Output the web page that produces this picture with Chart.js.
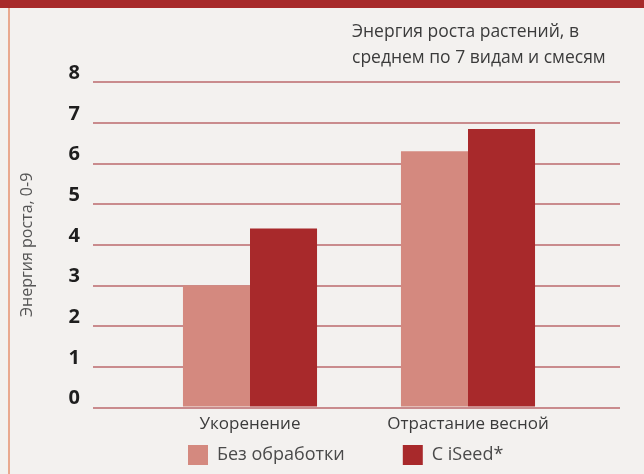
<!DOCTYPE html>
<html>
<head>
<meta charset="utf-8">
<script src="https://cdn.jsdelivr.net/npm/chart.js@4.4.1/dist/chart.umd.min.js"></script>
<style>
  html, body { margin: 0; padding: 0; }
  body { width: 644px; height: 474px; background: #f3f1ef; position: relative; overflow: hidden; }
  #topBar { position: absolute; left: 0; top: 0; width: 644px; height: 8px; background: #a72a2a; }
  #leftLine { position: absolute; left: 8px; top: 8px; width: 2px; height: 466px; background: #e9a98f; }
  #box { position: absolute; left: 0; top: 0; width: 644px; height: 474px; }
</style>
</head>
<body>
<div id="topBar"></div>
<div id="leftLine"></div>
<div id="box"><canvas id="growthChart" width="644" height="474"></canvas></div>
<script>
const categories = ["Укоренение", "Отрастание весной"];
const seriesNames = ["Без обработки", "С iSeed*"];
const untreated = [3.0, 6.3];
const withISeed = [4.4, 6.85];
const yTicks = [0, 1, 2, 3, 4, 5, 6, 7, 8];

const titleLines = ["Энергия роста растений, в", "среднем по 7 видам и смесям"];
const yTitle = "Энергия роста, 0-9";

const gridColor = "#c98b8d";
const textFont = "Open Sans";

// title and legend sit at fixed spots in the original layout
const placeBlocks = {
  id: "placeBlocks",
  afterLayout(chart) {
    chart.titleBlock.left = 352;
    const lg = chart.legend;
    lg.left = 188 - 58;
    lg.top = 445 - 58;
    lg.bottom = 474;
    lg.right = 644;
  },
};

new Chart(document.getElementById("growthChart"), {
  type: "bar",
  data: {
    labels: categories,
    datasets: [
      {
        label: seriesNames[0],
        data: untreated,
        backgroundColor: "#d4897f",
        borderWidth: 0,
      },
      {
        label: seriesNames[1],
        data: withISeed,
        backgroundColor: "#a8292b",
        borderWidth: 0,
      },
    ],
  },
  options: {
    responsive: false,
    animation: false,
    devicePixelRatio: 1,
    categoryPercentage: 0.615,
    barPercentage: 1,
    layout: { padding: { left: 0, right: 24, top: 0, bottom: 24 } },
    plugins: {
      title: {
        display: true,
        text: titleLines,
        align: "start",
        color: "#3b3b3b",
        font: { family: textFont, size: 17.5, weight: "normal", lineHeight: 1.49 },
        padding: { top: 19, bottom: 11 },
      },
      legend: {
        position: "bottom",
        align: "start",
        maxHeight: 10,
        labels: {
          boxWidth: 20,
          boxHeight: 20,
          padding: 58,
          color: "#4a4a4a",
          font: { family: textFont, size: 18 },
        },
      },
      tooltip: { enabled: false },
    },
    scales: {
      x: {
        grid: { display: false, drawTicks: false },
        border: { display: false },
        ticks: {
          padding: 6,
          maxRotation: 0,
          color: "#3b3b3b",
          font: { family: textFont, size: 17 },
        },
      },
      y: {
        min: 0,
        max: 8,
        afterFit(scale) { scale.width = 141; },
        afterBuildTicks(scale) { scale.ticks = yTicks.map(v => ({ value: v })); },
        grid: { color: gridColor, lineWidth: 2, tickLength: 48 },
        border: { display: false },
        ticks: {
          padding: 13,
          labelOffset: -9,
          color: "#1e1e1e",
          font: { family: "Open Sans", size: 20, weight: "bold" },
        },
        title: {
          display: true,
          text: yTitle,
          color: "#555555",
          font: { family: textFont, size: 16 },
          padding: { top: 18, bottom: 0 },
        },
      },
      yRight: {
        position: "right",
        min: 0,
        max: 8,
        afterFit(scale) { scale.width = 43; },
        afterBuildTicks(scale) { scale.ticks = yTicks.map(v => ({ value: v })); },
        grid: { color: gridColor, lineWidth: 2, tickLength: 43, drawOnChartArea: false },
        border: { display: false },
        ticks: { display: false },
      },
    },
  },
  plugins: [placeBlocks],
});
</script>
</body>
</html>
